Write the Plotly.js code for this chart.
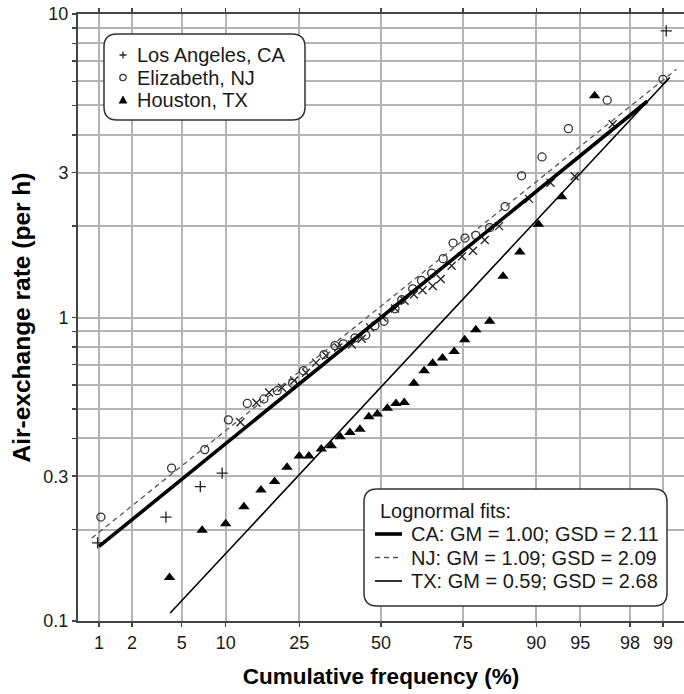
<!DOCTYPE html>
<html>
<head>
<meta charset="utf-8">
<script src="https://cdn.plot.ly/plotly-3.0.1.min.js"></script>
<style>html,body{margin:0;padding:0;background:#fff;}#chart{width:684px;height:694px;}</style>
</head>
<body>
<div id="chart"></div>
<script>
// ---------------- data ----------------
const xTickPct   = [1, 2, 5, 10, 25, 50, 75, 90, 95, 98, 99];
const xTickText  = ['1', '2', '5', '10', '25', '50', '75', '90', '95', '98', '99'];
const yTickVals  = [0.1, 0.3, 1, 3, 10];
const yTickText  = ['0.1', '0.3', '1', '3', '10'];
const yMinorVals = [0.2, 0.4, 0.5, 0.6, 0.7, 0.8, 0.9, 2, 4, 5, 6, 7, 8, 9];

// Los Angeles, CA
const caPct = [0.97, 3.8, 6.8, 9.5, 12.3, 15.2, 17.8, 20.7, 23.7, 26.8, 29.6, 32.5, 36.2, 40.5, 43.7, 46.4,
               50.5, 54.6, 57.7, 60.7, 63.4, 66.5, 68.9, 72.0, 74.8, 77.6, 80.4, 83.5, 88.9, 91.9, 94.5, 97.2, 99.07];
const caVal = [0.181, 0.220, 0.277, 0.307, 0.452, 0.524, 0.566, 0.587, 0.620, 0.658, 0.710, 0.749, 0.796, 0.815, 0.851, 0.928,
               1.00, 1.07, 1.135, 1.19, 1.23, 1.27, 1.34, 1.48, 1.59, 1.66, 1.80, 2.00, 2.46, 2.78, 2.92, 4.33, 8.8];
// Elizabeth, NJ
const njPct = [1.04, 4.2, 7.3, 10.4, 13.5, 16.7, 19.6, 23.3, 26.1, 31.9, 35.2, 37.8, 41.5, 45.0, 48.0, 51.0,
               54.6, 56.8, 60.3, 63.1, 66.2, 69.6, 72.4, 75.6, 78.3, 81.5, 84.7, 87.7, 90.8, 93.9, 96.9, 99.0];
const njVal = [0.220, 0.319, 0.367, 0.46, 0.521, 0.539, 0.574, 0.607, 0.668, 0.755, 0.808, 0.819, 0.857, 0.874, 0.94, 0.972,
               1.068, 1.144, 1.243, 1.325, 1.40, 1.563, 1.759, 1.827, 1.865, 1.977, 2.32, 2.93, 3.38, 4.19, 5.20, 6.09];
// Houston, TX
const txPct = [4.05, 7.0, 10.0, 12.9, 16.1, 19.0, 21.9, 25.0, 27.6, 31.1, 34.1, 36.8, 39.9, 43.1, 46.0, 48.8,
               52.1, 54.9, 57.6, 60.7, 63.9, 66.5, 69.4, 72.7, 75.5, 78.3, 81.5, 84.3, 87.4, 90.3, 93.2, 96.1];
const txVal = [0.139, 0.199, 0.209, 0.238, 0.270, 0.288, 0.321, 0.350, 0.350, 0.369, 0.378, 0.405, 0.418, 0.428, 0.471, 0.481,
               0.502, 0.521, 0.525, 0.607, 0.668, 0.707, 0.736, 0.773, 0.844, 0.911, 0.972, 1.368, 1.643, 2.027, 2.50, 5.38];

// Lognormal fits
const fitNames = ['CA: GM = 1.00; GSD = 2.11', 'NJ: GM = 1.09; GSD = 2.09', 'TX: GM = 0.59; GSD = 2.68'];
const fitGM    = [1.00, 1.09, 0.59];
const fitGSD   = [2.11, 2.09, 2.68];
const fitFromPct = [1.0, 0.85, 4.1];
const fitToPct   = [98.6, 99.26, 99.14];

const seriesNames = ['Los Angeles, CA', 'Elizabeth, NJ', 'Houston, TX'];
const fitLegendTitle = 'Lognormal fits:';

// ---------------- helpers ----------------
function probit(p) {
  const a=[-3.969683028665376e+01,2.209460984245205e+02,-2.759285104469687e+02,1.383577518672690e+02,-3.066479806614716e+01,2.506628277459239e+00];
  const b=[-5.447609879822406e+01,1.615858368580409e+02,-1.556989798598866e+02,6.680131188771972e+01,-1.328068155288572e+01];
  const c=[-7.784894002430293e-03,-3.223964580411365e-01,-2.400758277161838e+00,-2.549732539343734e+00,4.374664141464968e+00,2.938163982698783e+00];
  const d=[7.784695709041462e-03,3.224671290700398e-01,2.445134137142996e+00,3.754408661907416e+00];
  const pl=0.02425, ph=1-pl;
  if (p<pl){const q=Math.sqrt(-2*Math.log(p));return (((((c[0]*q+c[1])*q+c[2])*q+c[3])*q+c[4])*q+c[5])/((((d[0]*q+d[1])*q+d[2])*q+d[3])*q+1);}
  if (p<=ph){const q=p-0.5,r=q*q;return (((((a[0]*r+a[1])*r+a[2])*r+a[3])*r+a[4])*r+a[5])*q/(((((b[0]*r+b[1])*r+b[2])*r+b[3])*r+b[4])*r+1);}
  const q=Math.sqrt(-2*Math.log(1-p));return -(((((c[0]*q+c[1])*q+c[2])*q+c[3])*q+c[4])*q+c[5])/((((d[0]*q+d[1])*q+d[2])*q+d[3])*q+1);
}
const z = pct => pct.map(p => probit(p / 100));

// ---------------- layout geometry ----------------
const W = 684, H = 694, ML = 78, MR = 0, MT = 14, MB = 73;
const PW = W - ML - MR, PH = H - MT - MB;
const px = x => (x - ML) / PW;
const py = y => (H - MB - y) / PH;
function roundRect(x0, y0, x1, y1, r) {
  const X = v => px(v).toFixed(5), Y = v => py(v).toFixed(5);
  return 'M' + X(x0 + r) + ',' + Y(y0) + ' L' + X(x1 - r) + ',' + Y(y0) +
    ' Q' + X(x1) + ',' + Y(y0) + ' ' + X(x1) + ',' + Y(y0 + r) +
    ' L' + X(x1) + ',' + Y(y1 - r) +
    ' Q' + X(x1) + ',' + Y(y1) + ' ' + X(x1 - r) + ',' + Y(y1) +
    ' L' + X(x0 + r) + ',' + Y(y1) +
    ' Q' + X(x0) + ',' + Y(y1) + ' ' + X(x0) + ',' + Y(y1 - r) +
    ' L' + X(x0) + ',' + Y(y0 + r) +
    ' Q' + X(x0) + ',' + Y(y0) + ' ' + X(x0 + r) + ',' + Y(y0) + ' Z';
}
const P = (x, y) => px(x).toFixed(5) + ',' + py(y).toFixed(5);

const FONT = 'Liberation Sans, Arial, Helvetica, sans-serif';
const INK = '#1a1a1a';
const LEG_FONT = { size: 20, family: FONT, color: INK };

const caSymbols = caPct.map(p => (p > 12 && p < 98) ? 'x-thin-open' : 'cross-thin-open');

const traces = [
  { type: 'scatter', mode: 'markers', name: seriesNames[0], x: z(caPct), y: caVal,
    marker: { symbol: caSymbols, size: 8, color: '#222', line: { color: '#222', width: 1.3 } } },
  { type: 'scatter', mode: 'markers', name: seriesNames[1], x: z(njPct), y: njVal,
    marker: { symbol: 'circle-open', size: 8, color: '#333', line: { color: '#333', width: 1.3 } } },
  { type: 'scatter', mode: 'markers', name: seriesNames[2], x: z(txPct), y: txVal,
    marker: { symbol: 'triangle-up', size: 10, color: '#000' } }
];

const fitStyles = [
  { color: '#000', width: 3.6, dash: 'solid' },
  { color: '#555', width: 1.3, dash: '5px,4px' },
  { color: '#000', width: 1.6, dash: 'solid' }
];
for (let i = 0; i < fitNames.length; i++) {
  const zs = z([fitFromPct[i], fitToPct[i]]);
  traces.push({
    type: 'scatter', mode: 'lines', name: fitNames[i],
    x: zs, y: zs.map(v => fitGM[i] * Math.pow(fitGSD[i], v)),
    line: fitStyles[i], hoverinfo: 'skip'
  });
}

// ---------------- hand-drawn legends (rounded boxes) ----------------
const shapes = [
  { type: 'path', xref: 'paper', yref: 'paper', layer: 'above', path: roundRect(104, 34, 305, 120, 13),
    fillcolor: '#fff', line: { color: '#333', width: 1.5 } },
  { type: 'path', xref: 'paper', yref: 'paper', layer: 'above', path: roundRect(364, 489, 667, 606, 13),
    fillcolor: '#fff', line: { color: '#333', width: 1.5 } }
];
const annotations = [];
const leg1Rows = [55, 77.5, 100], leg1MarkX = 123, leg1TextX = 136;
shapes.push({ type: 'path', xref: 'paper', yref: 'paper', layer: 'above',
  path: 'M' + P(leg1MarkX - 3.5, leg1Rows[0]) + ' L' + P(leg1MarkX + 3.5, leg1Rows[0]) +
        ' M' + P(leg1MarkX, leg1Rows[0] - 3.5) + ' L' + P(leg1MarkX, leg1Rows[0] + 3.5),
  line: { color: '#222', width: 1.3 } });
shapes.push({ type: 'circle', xref: 'paper', yref: 'paper', layer: 'above',
  x0: px(leg1MarkX - 3.2), x1: px(leg1MarkX + 3.2), y0: py(leg1Rows[1] + 3.2), y1: py(leg1Rows[1] - 3.2),
  fillcolor: 'rgba(0,0,0,0)', line: { color: '#333', width: 1.3 } });
shapes.push({ type: 'path', xref: 'paper', yref: 'paper', layer: 'above',
  path: 'M' + P(leg1MarkX - 4, leg1Rows[2] + 3.2) + ' L' + P(leg1MarkX + 4, leg1Rows[2] + 3.2) +
        ' L' + P(leg1MarkX, leg1Rows[2] - 4) + ' Z',
  fillcolor: '#000', line: { color: '#000', width: 0.5 } });
seriesNames.forEach((n, i) => annotations.push({
  xref: 'paper', yref: 'paper', x: px(leg1TextX), y: py(leg1Rows[i]), xanchor: 'left', yanchor: 'middle',
  text: n, showarrow: false, font: LEG_FONT, borderpad: 0
}));

const leg2TitleY = 511, leg2Rows = [534, 557.5, 581], leg2LineX0 = 375, leg2LineX1 = 402, leg2TextX = 410;
annotations.push({
  xref: 'paper', yref: 'paper', x: px(379), y: py(leg2TitleY), xanchor: 'left', yanchor: 'middle',
  text: fitLegendTitle, showarrow: false, font: LEG_FONT, borderpad: 0
});
fitNames.forEach((n, i) => {
  shapes.push({ type: 'line', xref: 'paper', yref: 'paper', layer: 'above',
    x0: px(leg2LineX0), x1: px(leg2LineX1), y0: py(leg2Rows[i]), y1: py(leg2Rows[i]),
    line: fitStyles[i] });
  annotations.push({
    xref: 'paper', yref: 'paper', x: px(leg2TextX), y: py(leg2Rows[i]), xanchor: 'left', yanchor: 'middle',
    text: n, showarrow: false, font: LEG_FONT, borderpad: 0
  });
});

const gridColor = '#b4b4b4';
const layout = {
  width: W, height: H,
  margin: { l: ML, r: MR, t: MT, b: MB, pad: 0 },
  paper_bgcolor: '#fff', plot_bgcolor: '#fff',
  font: { family: FONT, color: INK, size: 18 },
  showlegend: false,
  xaxis: {
    range: [-2.5, 2.5], tickmode: 'array', tickvals: z(xTickPct), ticktext: xTickText,
    showgrid: true, gridcolor: gridColor, gridwidth: 2, zeroline: false,
    showline: true, linecolor: '#444', linewidth: 2, mirror: 'ticks',
    ticks: 'outside', ticklen: 4, tickwidth: 1.5, tickcolor: '#444',
    tickfont: { size: 18, family: FONT, color: INK },
    title: { text: 'Cumulative frequency (%)', font: { size: 22.5, family: FONT, weight: 'bold', color: '#000' }, standoff: 17 },
    automargin: false
  },
  yaxis: {
    type: 'log', range: [-1, 1], tickmode: 'array', tickvals: yTickVals, ticktext: yTickText,
    showgrid: true, gridcolor: gridColor, gridwidth: 2, zeroline: false,
    showline: true, linecolor: '#444', linewidth: 2, mirror: false,
    ticks: 'outside', ticklen: 4, tickwidth: 1.5, tickcolor: '#444',
    tickfont: { size: 18, family: FONT, color: INK },
    minor: { tickmode: 'array', tickvals: yMinorVals, showgrid: true, gridcolor: gridColor, gridwidth: 2,
             ticks: 'outside', ticklen: 4, tickwidth: 1.5, tickcolor: '#444' },
    title: { text: 'Air-exchange rate (per h)', font: { size: 24.5, family: FONT, weight: 'bold', color: '#000' }, standoff: 6 },
    automargin: false
  },
  shapes: shapes,
  annotations: annotations
};

Plotly.newPlot('chart', traces, layout, { displayModeBar: false, staticPlot: true });
</script>
</body>
</html>
